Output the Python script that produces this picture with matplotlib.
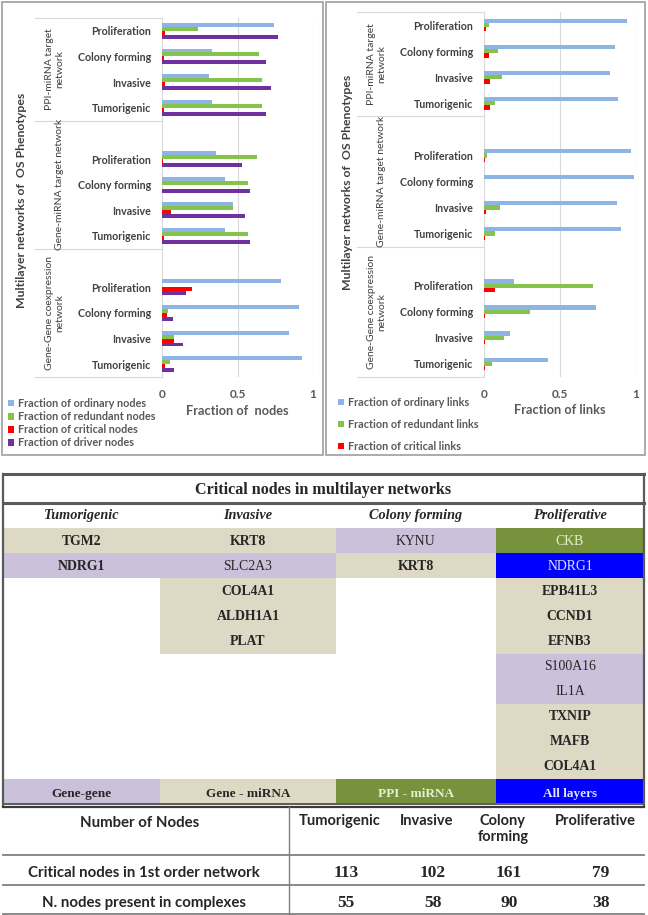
import matplotlib
matplotlib.use("Agg")
import matplotlib.pyplot as plt
import matplotlib.transforms as mtransforms
from matplotlib.patches import Rectangle

W, H = 648, 915

# ---------------- chart data ----------------
phenotypes = ["Tumorigenic", "Invasive", "Colony forming", "Proliferation"]
networks = ["Gene-Gene coexpression\nnetwork", "Gene-miRNA target network",
            "PPI-miRNA target\nnetwork"]

# rows: Gene-Gene, Gene-miRNA, PPI-miRNA ; columns follow phenotypes
nodes_ordinary = [[0.93, 0.84, 0.91, 0.79], [0.42, 0.47, 0.42, 0.36], [0.33, 0.31, 0.33, 0.74]]
nodes_redundant = [[0.05, 0.08, 0.04, 0.0], [0.57, 0.47, 0.57, 0.63], [0.66, 0.66, 0.64, 0.24]]
nodes_critical = [[0.02, 0.08, 0.03, 0.20], [0.01, 0.06, 0.003, 0.005], [0.01, 0.02, 0.01, 0.02]]
nodes_driver = [[0.08, 0.14, 0.07, 0.16], [0.58, 0.55, 0.58, 0.53], [0.69, 0.72, 0.69, 0.77]]

links_ordinary = [[0.42, 0.17, 0.74, 0.20], [0.90, 0.875, 0.99, 0.965], [0.88, 0.83, 0.86, 0.94]]
links_redundant = [[0.05, 0.13, 0.30, 0.72], [0.07, 0.105, 0.0, 0.02], [0.07, 0.12, 0.09, 0.03]]
links_critical = [[0.004, 0.004, 0.004, 0.075], [0.004, 0.013, 0.002, 0.008], [0.04, 0.04, 0.035, 0.015]]

node_labels = ["Fraction of ordinary nodes", "Fraction of redundant nodes",
               "Fraction of critical nodes", "Fraction of driver nodes"]
link_labels = ["Fraction of ordinary links", "Fraction of redundant links",
               "Fraction of critical links"]
bar_colors = ["#8db4e2", "#86c34a", "#ff0000", "#7030a0"]

# ---------------- table data ----------------
table_title = "Critical nodes in multilayer networks"
table_phenotypes = ["Tumorigenic", "Invasive", "Colony forming", "Proliferative"]
tumorigenic_genes = ["TGM2", "NDRG1"]
tumorigenic_layer = ["gm", "gg"]
invasive_genes = ["KRT8", "SLC2A3", "COL4A1", "ALDH1A1", "PLAT"]
invasive_layer = ["gm", "gg", "gm", "gm", "gm"]
colony_genes = ["KYNU", "KRT8"]
colony_layer = ["gg", "gm"]
prolif_genes = ["CKB", "NDRG1", "EPB41L3", "CCND1", "EFNB3", "S100A16", "IL1A",
                "TXNIP", "MAFB", "COL4A1"]
prolif_layer = ["ppi", "all", "gm", "gm", "gm", "gg", "gg", "gm", "gm", "gm"]
bold_override = [("Tumorigenic", "NDRG1")]

layer_keys = ["gg", "gm", "ppi", "all"]
layer_names = ["Gene-gene", "Gene - miRNA", "PPI - miRNA", "All layers"]
layer_colors = ["#ccc1da", "#ddd9c4", "#76923c", "#0000ff"]
layer_text = ["#262626", "#262626", "#e6efd2", "#dfe4ff"]
layer_weight = ["normal", "bold", "normal", "normal"]

count_title = "Number of Nodes"
count_header = ["Tumorigenic", "Invasive", "Colony\nforming", "Proliferative"]
count_rows = ["Critical nodes in 1st order network", "N. nodes present in complexes"]
critical_first_order = [113, 102, 161, 79]
in_complexes = [55, 58, 90, 38]

SANS = "Lato"
SERIF = "Liberation Serif"


def px_rect(x0, y0, x1, y1):
    return [x0 / W, 1 - y1 / H, (x1 - x0) / W, (y1 - y0) / H]


def draw_panel(ax, series, labels, bar_h, label_x, group_x):
    n = len(series)
    for k, vals in enumerate(series):
        off = ((n - 1) / 2.0 - k) * bar_h
        ys, xs = [], []
        for g in range(len(networks)):
            for j in range(len(phenotypes)):
                ys.append(g * 5 + j + off)
                xs.append(vals[g][j])
        ax.barh(ys, xs, height=bar_h, color=bar_colors[k], label=labels[k], zorder=3)
    ax.set_xlim(0, 1)
    ax.set_ylim(-0.5, 13.5)
    ticks = [g * 5 + j for g in range(len(networks)) for j in range(len(phenotypes))]
    ax.set_yticks(ticks)
    ax.set_yticklabels(phenotypes * len(networks), fontfamily=SANS, fontweight="bold",
                       fontsize=7.7, color="#404040")
    ax.set_xticks([0, 0.5, 1])
    ax.set_xticklabels(["0", "0.5", "1"], fontfamily=SANS, fontweight="bold",
                       fontsize=8.5, color="#595959")
    ax.tick_params(axis="both", length=0)
    ax.tick_params(axis="y", pad=8)
    ax.tick_params(axis="x", pad=9)
    ax.grid(axis="x", color="#d9d9d9", lw=0.8, zorder=0)
    for s in ax.spines.values():
        s.set_visible(False)
    trans = mtransforms.blended_transform_factory(ax.transAxes, ax.transData)
    for yb in [13.5, 9.5, 4.5, -0.5]:
        ax.plot([label_x, 0], [yb, yb], color="#d9d9d9", lw=0.8, transform=trans,
                clip_on=False)
    centers = [2, 7, 11.5]
    for g, name in enumerate(networks):
        ax.text(group_x, centers[g], name, transform=trans, rotation=90, ha="right",
                va="center", multialignment="center", fontfamily=SANS, fontsize=7.5,
                color="#404040")


fig = plt.figure(figsize=(W / 100, H / 100), dpi=100)

# left chart
ax1 = fig.add_axes(px_rect(162, 18, 313, 377))
draw_panel(ax1, [nodes_ordinary, nodes_redundant, nodes_critical, nodes_driver],
           node_labels, 0.155, -127 / 151, -98 / 151)
# right chart
ax2 = fig.add_axes(px_rect(484, 12, 636, 377))
draw_panel(ax2, [links_ordinary, links_redundant, links_critical],
           link_labels, 0.165, -127 / 152, -98 / 152)

fig.text(237 / W, 1 - 411 / H, "Fraction of  nodes", ha="center", va="center",
         fontfamily=SANS, fontweight="bold", fontsize=9.2, color="#595959")
fig.text(560 / W, 1 - 410 / H, "Fraction of links", ha="center", va="center",
         fontfamily=SANS, fontweight="bold", fontsize=9.2, color="#595959")
fig.text(22 / W, 1 - 200 / H, "Multilayer networks of  OS Phenotypes", rotation=90,
         ha="center", va="center", fontfamily=SANS, fontweight="bold", fontsize=8.8,
         color="#404040")
fig.text(347 / W, 1 - 182 / H, "Multilayer networks of  OS Phenotypes", rotation=90,
         ha="center", va="center", fontfamily=SANS, fontweight="bold", fontsize=8.8,
         color="#404040")

h1, l1 = ax1.get_legend_handles_labels()
fig.legend(h1, l1, loc="upper left", bbox_to_anchor=(8 / W, 1 - 398 / H), frameon=False,
           prop={"family": SANS, "weight": "bold", "size": 7.8}, labelcolor="#595959",
           handlelength=0.55, handleheight=0.55, handletextpad=0.4, labelspacing=0.2,
           borderpad=0, borderaxespad=0)
h2, l2 = ax2.get_legend_handles_labels()
fig.legend(h2, l2, loc="upper left", bbox_to_anchor=(338 / W, 1 - 397 / H), frameon=False,
           prop={"family": SANS, "weight": "bold", "size": 7.8}, labelcolor="#595959",
           handlelength=0.55, handleheight=0.55, handletextpad=0.4, labelspacing=1.0,
           borderpad=0, borderaxespad=0)

# ---------------- overlay for frames and tables ----------------
tax = fig.add_axes([0, 0, 1, 1], zorder=-1)
tax.set_xlim(0, W)
tax.set_ylim(H, 0)
tax.axis("off")

tax.add_patch(Rectangle((2, 2), 321, 453, fill=False, ec="#a6a6a6", lw=1.3))
tax.add_patch(Rectangle((326, 2), 319, 453, fill=False, ec="#a6a6a6", lw=1.3))

col_edges = [3, 160, 336, 496, 644]
title_top, title_bot, header_bot = 474, 503, 528
row_h = 25.1
dark = "#262626"

tax.text((col_edges[0] + col_edges[-1]) / 2, (title_top + title_bot) / 2 + 1, table_title,
         ha="center", va="center", fontfamily=SERIF, fontweight="bold", fontsize=11.6,
         color=dark)
for c, name in enumerate(table_phenotypes):
    tax.text((col_edges[c] + col_edges[c + 1]) / 2, (title_bot + header_bot) / 2, name,
             ha="center", va="center", fontfamily=SERIF, fontweight="bold",
             fontstyle="italic", fontsize=10.3, color=dark)

columns = [(tumorigenic_genes, tumorigenic_layer), (invasive_genes, invasive_layer),
           (colony_genes, colony_layer), (prolif_genes, prolif_layer)]
for c, (genes, layers) in enumerate(columns):
    x0, x1 = col_edges[c], col_edges[c + 1]
    for i, (gene, layer) in enumerate(zip(genes, layers)):
        li = layer_keys.index(layer)
        y0 = header_bot + i * row_h
        tax.add_patch(Rectangle((x0, y0), x1 - x0, row_h, fc=layer_colors[li], ec="none"))
        weight = layer_weight[li]
        if (table_phenotypes[c], gene) in bold_override:
            weight = "bold"
        tax.text((x0 + x1) / 2, y0 + row_h / 2 + 0.5, gene, ha="center", va="center",
                 fontfamily=SERIF, fontweight=weight, fontsize=9.9, color=layer_text[li])

n_rows = max(len(g) for g, _ in columns)
leg_top = header_bot + n_rows * row_h
leg_bot = leg_top + 24
for c, name in enumerate(layer_names):
    x0, x1 = col_edges[c], col_edges[c + 1]
    tax.add_patch(Rectangle((x0, leg_top), x1 - x0, leg_bot - leg_top, fc=layer_colors[c],
                            ec="none"))
    tax.text((x0 + x1) / 2, (leg_top + leg_bot) / 2 + 3, name, ha="center", va="center",
             fontfamily=SERIF, fontweight="bold", fontsize=9.5, color=layer_text[c])

frame = "#5a5a5a"
tax.plot([col_edges[0], col_edges[-1]], [title_top, title_top], color=frame, lw=2.2)
tax.plot([col_edges[0], col_edges[-1]], [title_bot, title_bot], color=frame, lw=2.2)
tax.plot([col_edges[0], col_edges[0]], [title_top, leg_bot + 3], color=frame, lw=1.6)
tax.plot([col_edges[-1], col_edges[-1]], [title_top, leg_bot + 3], color=frame, lw=1.6)
tax.plot([col_edges[0], col_edges[-1]], [leg_bot + 0.5, leg_bot + 0.5], color=frame, lw=1.4)
tax.plot([col_edges[0], col_edges[-1]], [leg_bot + 3.5, leg_bot + 3.5], color="#3a3a3a", lw=1.6)

# counts table
cnt_top = leg_bot + 4
cnt_div = 289
cnt_cols = [340, 427, 503, 595]
line_c = "#808080"
tax.plot([cnt_div, cnt_div], [cnt_top, 914], color=line_c, lw=1.0)
for yl in [855, 885, 914]:
    tax.plot([col_edges[0], col_edges[-1]], [yl, yl], color=line_c, lw=1.3)
tax.text(140, 823, count_title, ha="center", va="center", fontfamily=SANS,
         fontweight="bold", fontsize=10.8, color=dark)
for c, name in enumerate(count_header):
    tax.text(cnt_cols[c], 814, name, ha="center", va="top", fontfamily=SANS,
             fontweight="bold", fontsize=10.5, color=dark, linespacing=1.2)
for r, (label, vals) in enumerate(zip(count_rows, [critical_first_order, in_complexes])):
    yc = 873 + r * 30
    tax.text(144, yc, label, ha="center", va="center", fontfamily=SANS, fontweight="bold",
             fontsize=10.8, color=dark)
    for c, v in enumerate(vals):
        tax.text(cnt_cols[c] + 6, yc, str(v), ha="center", va="center", fontfamily=SERIF,
                 fontweight="bold", fontsize=12.5, color=dark)

fig.savefig("out.png", dpi=100)
